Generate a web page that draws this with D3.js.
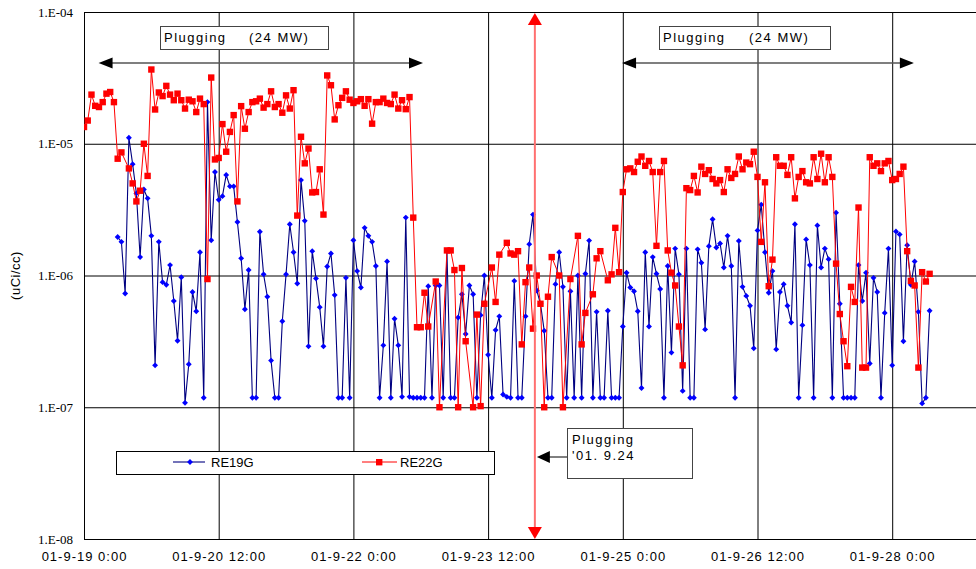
<!DOCTYPE html>
<html>
<head>
<meta charset="utf-8">
<script src="https://cdn.jsdelivr.net/npm/d3@7"></script>
<style>
  body { margin: 0; background: #fff; }
  svg { display: block; }
  .ylab text { font-family: "Liberation Serif", "Times New Roman", serif; font-size: 13px; fill: #000; }
  .xlab text { font-family: "Liberation Sans", Arial, sans-serif; font-size: 13px; letter-spacing: 1px; fill: #000; }
  .note { font-family: "Liberation Sans", Arial, sans-serif; font-size: 13px; letter-spacing: 1.5px; fill: #000; }
  .leg { font-family: "Liberation Sans", Arial, sans-serif; font-size: 13px; fill: #000; }
</style>
</head>
<body>
<div id="chart"></div>
<script>
// start of the record: 01-9-19 0:00, values every hour
var startTime = new Date(2001, 8, 19, 0, 0);

var xTickHours = [0, 36, 72, 108, 144, 180, 216];
var yTickValues = [1e-8, 1e-7, 1e-6, 1e-5, 1e-4];

// RE19G (hours 9 .. 226, hourly)
var re19Hours = d3.range(9, 227);
var re19Values = [
  1.96e-6, 1.8e-6, 7.3e-7, 1.11e-5, 7.0e-6, 4.2e-6, 1.38e-6, 4.5e-6, 3.85e-6, 2.0e-6,
  2.08e-7, 1.8e-6, 8.9e-7, 8.5e-7, 1.2e-6, 6.4e-7, 3.2e-7, 9.7e-7, 1.08e-7, 2.12e-7,
  7.5e-7, 5.35e-7, 1.5e-6, 1.18e-7, 2.07e-5, 1.85e-6, 6.1e-6, 3.75e-6, 4.0e-6, 5.8e-6,
  4.75e-6, 4.75e-6, 2.55e-6, 1.35e-6, 5.55e-7, 1.1e-6, 1.18e-7, 1.18e-7, 2.15e-6, 1.02e-6,
  6.9e-7, 2.26e-7, 1.18e-7, 1.18e-7, 4.5e-7, 1.02e-6, 2.45e-6, 1.5e-6, 8.7e-7, 5.3e-6,
  2.6e-6, 2.9e-7, 1.53e-6, 9.5e-7, 5.75e-7, 2.9e-7, 1.17e-6, 1.47e-6, 7.1e-7, 1.18e-7,
  1.18e-7, 9.6e-7, 1.18e-7, 1.85e-6, 1.08e-6, 8.1e-7, 2.3e-6, 2.0e-6, 1.8e-6, 1.18e-6,
  1.18e-7, 2.95e-7, 1.28e-6, 1.18e-7, 4.7e-7, 2.95e-7, 1.2e-7, 2.75e-6, 1.2e-7, 1.18e-7,
  1.18e-7, 1.18e-7, 1.18e-7, 8.3e-7, 1.18e-7, 8.4e-7, 8.4e-7, 1.18e-7, 1.53e-6, 1.18e-7,
  1.18e-7, 4.8e-7, 7.2e-7, 3.6e-7, 8.4e-7, 7.2e-7, 1.18e-7, 5.0e-7, 1.0e-6, 2.5e-7,
  1.18e-7, 3.85e-7, 4.9e-7, 1.25e-7, 1.2e-7, 1.18e-7, 9.1e-7, 1.18e-7, 1.18e-7, 4.9e-7,
  1.73e-6, 2.9e-6, 7.7e-7, 6.1e-7, 3.8e-7, 1.18e-7, 1.18e-7, 8.6e-7, 1.5e-6, 8.2e-7,
  1.18e-7, 7.6e-7, 1.18e-7, 1.0e-6, 1.18e-7, 1.03e-6, 1.84e-6, 1.18e-7, 5.3e-7, 1.18e-7,
  1.18e-7, 5.4e-7, 1.18e-7, 1.18e-7, 1.18e-7, 4.1e-7, 1.05e-6, 8.1e-7, 7.6e-7, 5.35e-7,
  1.4e-7, 1.5e-6, 4.1e-7, 1.38e-6, 1.03e-6, 7.9e-7, 1.18e-7, 1.18e-6, 2.6e-7, 1.6e-6,
  1.02e-6, 1.33e-7, 1.6e-6, 1.18e-7, 1.18e-7, 1.58e-6, 1.25e-6, 3.9e-7, 1.67e-6, 2.67e-6,
  1.63e-6, 1.75e-6, 1.15e-6, 2.0e-6, 1.18e-6, 1.18e-7, 1.83e-6, 8.2e-7, 7.0e-7, 5.9e-7,
  2.8e-7, 2.2e-6, 3.45e-6, 1.5e-6, 7.4e-7, 1.08e-6, 2.75e-7, 7.5e-7, 8.6e-7, 5.9e-7,
  4.4e-7, 2.45e-6, 1.18e-7, 4.2e-7, 1.88e-6, 1.2e-6, 1.18e-7, 2.4e-6, 1.15e-6, 1.6e-6,
  1.33e-6, 1.18e-7, 3.0e-6, 6.1e-7, 1.18e-7, 1.18e-7, 1.18e-7, 1.18e-7, 1.2e-6, 6.4e-7,
  1.05e-6, 2.15e-7, 9.6e-7, 7.5e-7, 1.18e-7, 5.2e-7, 1.6e-6, 2.08e-7, 2.16e-6, 2.05e-6,
  3.17e-7, 1.7e-6, 8.5e-7, 1.28e-6, 5.3e-7, 1.07e-7, 1.18e-7, 5.4e-7
];

// RE22G (a few hours are missing)
var re22Hours = [
  0, 1, 2, 3, 4, 5, 6, 7, 8, 9, 10, 12, 13, 14, 15, 16, 17, 18, 19, 20,
  21, 22, 23, 24, 25, 26, 27, 28, 29, 30, 31, 32, 33, 34, 35, 36, 37, 38, 39, 40,
  41, 42, 43, 44, 45, 46, 47, 48, 49, 50, 51, 52, 53, 54, 55, 56, 57, 58, 59, 60,
  61, 62, 63, 64, 65, 66, 67, 68, 69, 70, 71, 72, 73, 74, 75, 76, 77, 78, 79, 80,
  81, 82, 83, 84, 85, 86, 87, 88, 89, 90, 91, 92, 94, 95, 97, 98, 99, 100, 101, 102,
  104, 105, 106, 107, 109, 110, 111, 113, 114, 115, 116, 117, 118, 119, 120, 121, 122, 123, 124, 125,
  127, 128, 130, 132, 133, 134, 136, 137, 138, 140, 141, 142, 143, 144, 145, 146, 147, 148, 149, 150,
  151, 152, 153, 154, 155, 156, 157, 158, 159, 160, 161, 162, 163, 164, 165, 166, 167, 168, 169, 170,
  171, 172, 173, 174, 175, 176, 177, 178, 179, 180, 181, 182, 183, 184, 185, 186, 187, 188, 189, 190,
  191, 192, 193, 194, 195, 196, 197, 198, 199, 200, 201, 202, 203, 204, 205, 206, 207, 208, 209, 210,
  211, 212, 213, 214, 215, 216, 217, 218, 219, 220, 221, 222, 223, 224, 225, 226
];
var re22Values = [
  1.34e-5, 1.5e-5, 2.36e-5, 1.94e-5, 1.9e-5, 2.07e-5, 2.4e-5, 2.47e-5, 2.07e-5, 7.7e-6, 8.6e-6, 6.5e-6, 5.0e-6, 3.65e-6, 4.4e-6, 1.0e-5, 5.7e-6, 3.66e-5, 1.82e-5, 2.45e-5,
  2.3e-5, 2.75e-5, 2.36e-5, 2.14e-5, 2.4e-5, 2.14e-5, 1.85e-5, 2.16e-5, 2.1e-5, 1.74e-5, 2.2e-5, 2.0e-5, 9.4e-7, 3.18e-5, 7.6e-6, 7.8e-6, 1.41e-5, 8.7e-6, 1.23e-5, 1.65e-5,
  3.65e-6, 1.93e-5, 1.3e-5, 1.74e-5, 2.07e-5, 2.1e-5, 2.2e-5, 1.88e-5, 2.0e-5, 2.5e-5, 1.9e-5, 2.0e-5, 1.72e-5, 2.33e-5, 1.85e-5, 2.55e-5, 2.85e-6, 1.13e-5, 7.1e-6, 9.2e-6,
  4.27e-6, 4.3e-6, 6.4e-6, 2.9e-6, 3.3e-5, 2.78e-5, 1.53e-5, 1.96e-5, 2.23e-5, 2.5e-5, 2.16e-5, 2.04e-5, 2.1e-5, 2.18e-5, 1.94e-5, 2.18e-5, 1.42e-5, 2.07e-5, 2.07e-5, 2.2e-5,
  2.04e-5, 2.0e-5, 2.36e-5, 1.85e-5, 2.14e-5, 1.83e-5, 2.26e-5, 2.75e-6, 4.05e-7, 4.05e-7, 7.4e-7, 4.1e-7, 9.0e-7, 1.0e-7, 1.55e-6, 1.55e-6, 1.1e-6, 1.0e-7, 1.14e-6, 3.17e-7,
  1.0e-7, 5.05e-7, 1.02e-7, 6.1e-7, 1.15e-6, 6.3e-7, 1.44e-6, 1.77e-6, 1.47e-6, 1.44e-6, 1.53e-6, 3.0e-7, 8.9e-7, 1.15e-6, 3.95e-7, 1.0e-6, 6.1e-7, 1.0e-7, 6.9e-7, 1.38e-6,
  1.0e-6, 1.0e-7, 9.4e-7, 2.0e-6, 3.0e-7, 5.2e-7, 7.2e-7, 1.35e-6, 1.53e-6, 9.2e-7, 1.02e-6, 2.3e-6, 1.06e-6, 4.3e-6, 6.4e-6, 6.5e-6, 6.1e-6, 7.3e-6, 8.0e-6, 6.8e-6,
  7.4e-6, 6.1e-6, 1.68e-6, 6.1e-6, 7.4e-6, 1.55e-6, 1.05e-6, 8.4e-7, 4.1e-7, 2.08e-7, 4.6e-6, 4.45e-6, 5.7e-6, 4.27e-6, 6.7e-6, 5.9e-6, 6.3e-6, 5.4e-6, 5.0e-6, 5.3e-6,
  4.3e-6, 6.4e-6, 5.5e-6, 5.9e-6, 8.0e-6, 6.4e-6, 7.2e-6, 7.0e-6, 8.7e-6, 5.6e-6, 1.8e-6, 5.1e-6, 8.3e-7, 1.32e-6, 7.9e-6, 6.8e-6, 6.8e-6, 5.8e-6, 7.9e-6, 3.85e-6,
  5.6e-6, 6.2e-6, 5.1e-6, 5.0e-6, 7.9e-6, 5.4e-6, 8.4e-6, 5.1e-6, 7.9e-6, 5.6e-6, 1.23e-6, 5.1e-7, 3.17e-7, 2.05e-7, 8.2e-7, 6.3e-7, 3.28e-6, 2.0e-7, 2.0e-7, 7.9e-6,
  6.8e-6, 7.1e-6, 6.2e-6, 7.1e-6, 7.4e-6, 5.3e-6, 5.4e-6, 5.9e-6, 6.7e-6, 1.53e-6, 9.1e-7, 8.4e-7, 2.0e-7, 1.06e-6, 9.0e-7, 1.03e-6
];

// annotation periods (hours from start)
var plugPeriods = [[3.9, 90.6], [143.8, 221.8]];
var plugHour = 120.5;

function hourToDate(h) {
    return new Date(startTime.getTime() + h * 3600000);
}

var W = 976, H = 569;
var plotLeft = 84, plotTop = 12, plotW = 898, plotH = 527;

var svg = d3.select("#chart").append("svg")
    .attr("width", W)
    .attr("height", H);

var x = d3.scaleTime()
    .domain([startTime, hourToDate(240)])
    .range([plotLeft, plotLeft + plotW]);
var y = d3.scaleLog()
    .domain([1e-8, 1e-4])
    .range([plotTop + plotH, plotTop]);

svg.append("defs").append("clipPath").attr("id", "plotclip")
    .append("rect")
    .attr("x", plotLeft).attr("y", plotTop - 4)
    .attr("width", plotW).attr("height", plotH + 8);

/** grid + axes */
var xAxis = d3.axisBottom(x)
    .tickValues(xTickHours.map(hourToDate))
    .tickFormat(d3.timeFormat("%y-%-m-%-d %-H:%M"))
    .tickSizeInner(-plotH)
    .tickSizeOuter(0)
    .tickPadding(13);

var gx = svg.append("g")
    .attr("class", "xlab")
    .attr("transform", "translate(0," + (plotTop + plotH) + ")")
    .call(xAxis);
gx.select(".domain").attr("stroke", "#000");
gx.selectAll(".tick line").attr("stroke", "#000");
gx.selectAll("text").attr("font-family", null).attr("font-size", null);

var yAxis = d3.axisLeft(y)
    .tickValues(yTickValues)
    .tickFormat(function (d) {
        var e = Math.round(Math.log10(d));
        return "1.E-" + (e < 0 ? (-e < 10 ? "0" : "") + (-e) : e);
    })
    .tickSizeInner(-plotW)
    .tickSizeOuter(0)
    .tickPadding(11);

var gy = svg.append("g")
    .attr("class", "ylab")
    .attr("transform", "translate(" + plotLeft + ",0)")
    .call(yAxis);
gy.select(".domain").attr("stroke", "#000");
gy.selectAll(".tick line").attr("stroke", "#000");
gy.selectAll("text").attr("font-family", null).attr("font-size", null);

svg.append("text")
    .attr("class", "leg")
    .attr("transform", "translate(20," + (plotTop + plotH / 2) + ") rotate(-90)")
    .attr("text-anchor", "middle")
    .style("letter-spacing", "0.5px")
    .text("(uCi/cc)");

/** series */
var plot = svg.append("g").attr("clip-path", "url(#plotclip)");

var re19 = re19Hours.map(function (h, i) { return [hourToDate(h), re19Values[i]]; });
var re22 = re22Hours.map(function (h, i) { return [hourToDate(h), re22Values[i]]; });

var line = d3.line()
    .x(function (d) { return x(d[0]); })
    .y(function (d) { return y(d[1]); });

plot.append("path")
    .attr("d", line(re19))
    .attr("fill", "none")
    .attr("stroke", "#000080")
    .attr("stroke-width", 1.1);

var diamond = d3.symbol().type(d3.symbolDiamond2).size(22);
plot.selectAll(".p19").data(re19).enter().append("path")
    .attr("class", "p19")
    .attr("d", diamond)
    .attr("transform", function (d) { return "translate(" + x(d[0]) + "," + y(d[1]) + ")"; })
    .attr("fill", "#0000FF");

plot.append("path")
    .attr("d", line(re22))
    .attr("fill", "none")
    .attr("stroke", "#FF0000")
    .attr("stroke-width", 1);

plot.selectAll(".p22").data(re22).enter().append("rect")
    .attr("class", "p22")
    .attr("x", function (d) { return x(d[0]) - 3.2; })
    .attr("y", function (d) { return y(d[1]) - 3.2; })
    .attr("width", 6.4)
    .attr("height", 6.4)
    .attr("fill", "#FF0000");

/** plugging period arrows */
var arrowY = 63;
plugPeriods.forEach(function (p) {
    var x1 = x(hourToDate(p[0])), x2 = x(hourToDate(p[1]));
    svg.append("line")
        .attr("x1", x1 + 6).attr("x2", x2 - 6)
        .attr("y1", arrowY).attr("y2", arrowY)
        .attr("stroke", "#555").attr("stroke-width", 1.5);
    svg.append("path")
        .attr("d", "M" + x1 + "," + arrowY + "L" + (x1 + 14) + "," + (arrowY - 5.5) + "L" + (x1 + 14) + "," + (arrowY + 5.5) + "Z")
        .attr("fill", "#000");
    svg.append("path")
        .attr("d", "M" + x2 + "," + arrowY + "L" + (x2 - 14) + "," + (arrowY - 5.5) + "L" + (x2 - 14) + "," + (arrowY + 5.5) + "Z")
        .attr("fill", "#000");
});

function noteBox(bx, by, bw, bh) {
    svg.append("rect")
        .attr("x", bx + 0.5).attr("y", by + 0.5)
        .attr("width", bw).attr("height", bh)
        .attr("fill", "#fff")
        .attr("stroke", "#444").attr("stroke-width", 1);
}

noteBox(160, 26, 168, 23);
svg.append("text").attr("class", "note").attr("x", 164).attr("y", 42).text("Plugging");
svg.append("text").attr("class", "note").attr("x", 249).attr("y", 42).text("(24 MW)");

noteBox(659, 26, 171, 23);
svg.append("text").attr("class", "note").attr("x", 663).attr("y", 42).text("Plugging");
svg.append("text").attr("class", "note").attr("x", 749).attr("y", 42).text("(24 MW)");

/** plugging moment: red vertical arrow */
var px = x(hourToDate(plugHour));
svg.append("line")
    .attr("x1", px).attr("x2", px)
    .attr("y1", plotTop + 10).attr("y2", plotTop + plotH - 10)
    .attr("stroke", "#FF7070").attr("stroke-width", 2);
svg.append("path")
    .attr("d", "M" + px + "," + (plotTop + 1) + "L" + (px - 7) + "," + (plotTop + 13) + "L" + (px + 7) + "," + (plotTop + 13) + "Z")
    .attr("fill", "#FF0000");
svg.append("path")
    .attr("d", "M" + px + "," + (plotTop + plotH) + "L" + (px - 7) + "," + (plotTop + plotH - 12) + "L" + (px + 7) + "," + (plotTop + plotH - 12) + "Z")
    .attr("fill", "#FF0000");

noteBox(567, 428, 125, 50);
svg.append("text").attr("class", "note").attr("x", 572).attr("y", 444).text("Plugging");
svg.append("text").attr("class", "note").attr("x", 572).attr("y", 460).text("'01. 9.24");
svg.append("line")
    .attr("x1", 567).attr("x2", 548)
    .attr("y1", 457).attr("y2", 457)
    .attr("stroke", "#000").attr("stroke-width", 1);
svg.append("path")
    .attr("d", "M" + (px + 2) + ",457L" + (px + 15) + ",451L" + (px + 15) + ",463Z")
    .attr("fill", "#000");

/** legend */
var leg = svg.append("g");
leg.append("rect")
    .attr("x", 116.5).attr("y", 451.5)
    .attr("width", 378).attr("height", 23)
    .attr("fill", "#fff").attr("stroke", "#000");
leg.append("line").attr("x1", 173).attr("x2", 205).attr("y1", 462).attr("y2", 462)
    .attr("stroke", "#000080").attr("stroke-width", 1.1);
leg.append("path").attr("d", diamond).attr("transform", "translate(190,462)").attr("fill", "#0000FF");
leg.append("text").attr("class", "leg").attr("x", 211).attr("y", 467).text("RE19G");
leg.append("line").attr("x1", 362).attr("x2", 397).attr("y1", 462).attr("y2", 462)
    .attr("stroke", "#FF0000").attr("stroke-width", 1);
leg.append("rect").attr("x", 376).attr("y", 459).attr("width", 6.4).attr("height", 6.4).attr("fill", "#FF0000");
leg.append("text").attr("class", "leg").attr("x", 400).attr("y", 467).text("RE22G");
</script>
</body>
</html>
